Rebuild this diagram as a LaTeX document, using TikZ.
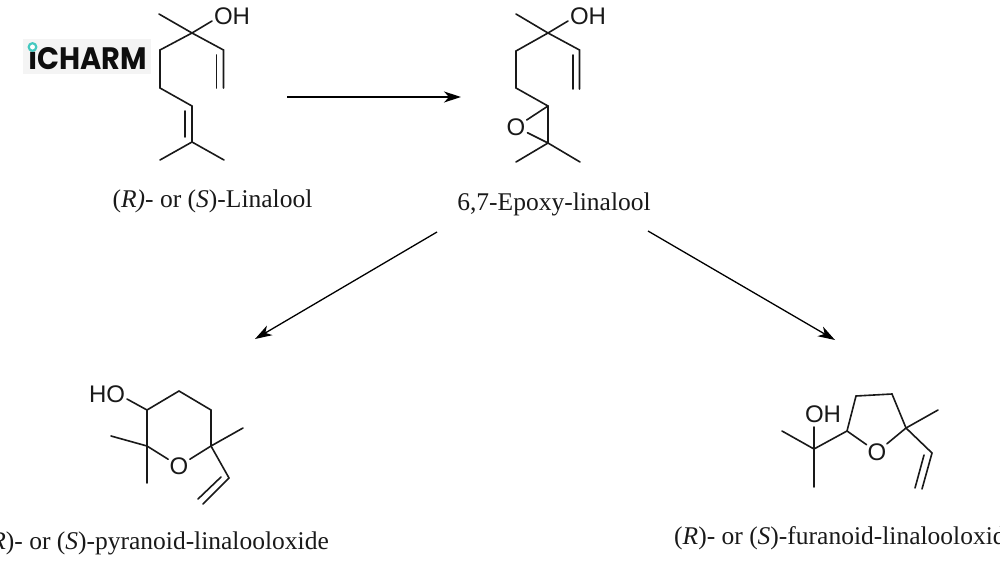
\documentclass[tikz,border=0pt]{standalone}
\usepackage{fontspec}
\setmainfont{Liberation Serif}
\newfontfamily\atomfont{Liberation Sans}
\newfontfamily\logofont[FakeStretch=0.93]{Poppins}
\usetikzlibrary{arrows.meta}
\definecolor{logobg}{HTML}{F4F4F4}
\definecolor{logoink}{HTML}{0E0E0E}
\definecolor{logoteal}{HTML}{45C9C0}
\tikzset{
  bond/.style={line width=1.6pt,black!90,line cap=round,line join=miter},
  rxn/.style={line width=1.3pt,black,-{Stealth[length=17pt,width=11pt,inset=5pt]}},
  atomlab/.style={font=\atomfont\fontsize{24}{24}\selectfont,inner sep=0pt,text=black!90},
  oxy/.style={atomlab,circle,minimum size=21pt},
  caption/.style={font=\fontsize{25.5}{28}\selectfont,inner sep=0pt,text=black!90},
}
\begin{document}
\begin{tikzpicture}[x=1pt,y=-1pt]
\useasboundingbox (0,0) rectangle (1000,562);
\clip (0,0) rectangle (1000,562);
\fill[white] (0,0) rectangle (1000,562);

% logo
\fill[logobg] (23,39) rectangle (151,74);
\node[inner sep=0pt,text=logoink,anchor=base west,font=\logofont\bfseries\fontsize{31}{31}\selectfont] (logo) at (28,69) {ıCHARM};
\draw[logoteal,line width=2.2pt,fill=white] (32.5,47) circle (3.8pt);

% Linalool
\node[atomlab] (aOH) at (232,16) {OH};
\foreach \n/\x/\y in {a1/159/14,a2/192/33,a3/223.5/50,a4/223.5/88,a4i/216.5/88,a3i/216.5/55,a5/160/50,a6/160/88,a7/192/106,a8/192/142,a7i/185/111,a8i/185/137,a9/160/160,a10/224/160,aOb/212/21}
  \coordinate (\n) at (\x,\y);
\draw[bond] (a1)--(a2)--(aOb);
\draw[bond] (a2)--(a3)--(a4);
\draw[bond] (a3i)--(a4i);
\draw[bond] (a2)--(a5)--(a6)--(a7)--(a8)--(a9);
\draw[bond] (a8)--(a10);
\draw[bond] (a7i)--(a8i);
\node[caption,anchor=base] (acap) at (212.5,207) {(\textit{R)}- or (\textit{S})-Linalool};

% Epoxy-linalool
\node[atomlab] (bOH) at (588,16) {OH};
\node[oxy] (bO) at (516,127) {O};
\foreach \n/\x/\y in {b1/516/14,b2/548/33,b3/579.5/50,b4/579.5/89,b4i/573/89,b3i/573/55,b5/516/51,b6/516/88,b7/548/106,b8/548/143,b9/516/162,b10/580/162,bOb/568/21}
  \coordinate (\n) at (\x,\y);
\draw[bond] (b1)--(b2)--(bOb);
\draw[bond] (b2)--(b3)--(b4);
\draw[bond] (b3i)--(b4i);
\draw[bond] (b2)--(b5)--(b6)--(b7)--(b8)--(b9);
\draw[bond] (b8)--(b10);
\draw[bond] (b7)--(bO);
\draw[bond] (b8)--(bO);
\node[caption,anchor=base] (bcap) at (554,210) {6,7-Epoxy-linalool};

% Pyranoid
\node[atomlab] (cOH) at (107,394) {HO};
\node[oxy] (cO) at (179,466) {O};
\foreach \n/\x/\y in {cOb/127/399,c1/147/410,c2/179/391,c3/211/410,c4/211/446,c5/147/446,c6/111/436,c7/147/483,c8/243/428,c9/229/478,c10/203/504,c9i/221/477,c10i/198/499}
  \coordinate (\n) at (\x,\y);
\draw[bond] (cOb)--(c1)--(c2)--(c3)--(c4);
\draw[bond] (c1)--(c5);
\draw[bond] (c5)--(c6);
\draw[bond] (c5)--(c7);
\draw[bond] (c5)--(cO);
\draw[bond] (c4)--(cO);
\draw[bond] (c4)--(c8);
\draw[bond] (c4)--(c9)--(c10);
\draw[bond] (c9i)--(c10i);
\node[caption,anchor=base east] (ccap) at (329,549) {(\textit{R})- or (\textit{S})-pyranoid-linalooloxide};

% Furanoid
\node[atomlab] (dOH) at (823,414) {OH};
\node[oxy] (dO) at (877,452) {O};
\foreach \n/\x/\y in {dOb/814/427,d1/782/431,d2/814/449,d3/814/487,d4/847/431,d5/856/396,d6/892/394,d7/906/428,d8/938/410,d9/932/453,d10/922/489,d9i/924/455,d10i/915/488}
  \coordinate (\n) at (\x,\y);
\draw[bond] (d1)--(d2)--(dOb);
\draw[bond] (d2)--(d3);
\draw[bond] (d2)--(d4)--(d5)--(d6)--(d7);
\draw[bond] (d4)--(dO);
\draw[bond] (d7)--(dO);
\draw[bond] (d7)--(d8);
\draw[bond] (d7)--(d9)--(d10);
\draw[bond] (d9i)--(d10i);
\node[caption,anchor=base west] (dcap) at (674,544) {(\textit{R})- or (\textit{S})-furanoid-linalooloxide};

% reaction arrows
\coordinate (r1s) at (287,97); \coordinate (r1e) at (461,97);
\coordinate (r2s) at (437,232); \coordinate (r2e) at (255,339);
\coordinate (r3s) at (648,231); \coordinate (r3e) at (835,340);
\draw[rxn] (r1s)--(r1e);
\draw[rxn] (r2s)--(r2e);
\draw[rxn] (r3s)--(r3e);
\end{tikzpicture}
\end{document}
